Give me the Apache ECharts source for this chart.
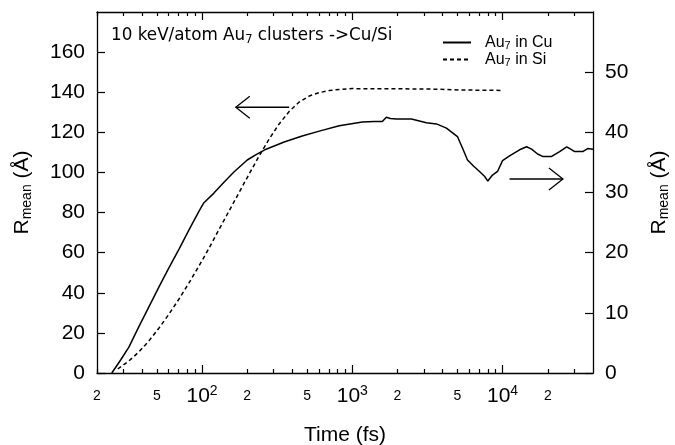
<!DOCTYPE html>
<html>
<head>
<meta charset="utf-8">
<script src="https://cdn.jsdelivr.net/npm/echarts@6/dist/echarts.min.js"></script>
<style>html,body{margin:0;padding:0;background:#fff;}#c{width:675px;height:445px;}</style>
</head>
<body>
<div id="c"></div>
<script>
// ---- data ----
const cuTime = [25.1, 28.8, 32.6, 38.0, 44.3, 51.7, 60.3, 70.3, 81.9, 95.5, 103, 120, 140, 163, 200, 229, 267, 352, 464, 603, 819, 1166, 1402, 1585, 1685, 1792, 1965, 2474, 2797, 3114, 3631, 4233, 5012, 5412, 5845, 6409, 7025, 7586, 7980, 8577, 9261, 10000, 11135, 12023, 12983, 14454, 15604, 17113, 18478, 21219, 23988, 26710, 28400, 30200, 34154, 36880, 40000];
const cuR    = [0, 2.2, 4.3, 7.7, 11.0, 14.3, 17.5, 20.6, 23.8, 26.9, 28.3, 29.9, 31.7, 33.4, 35.4, 36.3, 37.2, 38.4, 39.4, 40.2, 41.1, 41.7, 41.8, 41.8, 42.5, 42.3, 42.2, 42.2, 41.9, 41.6, 41.4, 40.7, 39.3, 37.4, 35.4, 34.4, 33.5, 32.7, 31.9, 32.9, 33.5, 35.3, 36.1, 36.6, 37.1, 37.6, 37.2, 36.4, 36.0, 36.0, 36.8, 37.6, 37.2, 36.8, 36.8, 37.3, 37.2];
const siTime = [27.5, 32.6, 38.0, 44.3, 51.7, 60.3, 70.3, 81.9, 95.5, 111.4, 129.8, 151.4, 176.5, 205.8, 239.9, 279.7, 326.1, 380.2, 443.3, 516.9, 602.6, 702.6, 819.1, 1000, 1965, 3261, 5412, 9847];
const siR    = [2.0, 6.0, 10.5, 16.0, 22.4, 29.4, 36.9, 44.9, 53.4, 62.3, 71.6, 80.8, 90.0, 99.2, 108.2, 116.7, 124.2, 130.4, 135.1, 138.1, 139.8, 140.8, 141.4, 141.8, 141.7, 141.6, 141.1, 140.9];
const seriesNames = ['Au7 in Cu', 'Au7 in Si'];
const xLabelValues = [20, 50, 100, 200, 500, 1000, 2000, 5000, 10000, 20000];
const xMajorTicks = [100, 1000, 10000];
const xMinorTicks = [20, 30, 40, 50, 60, 70, 80, 90, 200, 300, 400, 500, 600, 700, 800, 900, 2000, 3000, 4000, 5000, 6000, 7000, 8000, 9000, 20000, 30000];
const leftTicks = [0, 20, 40, 60, 80, 100, 120, 140, 160];
const rightTicks = [0, 10, 20, 30, 40, 50];
const titleText = '10 keV/atom Au{sub|7} clusters ->Cu/Si';
const xName = 'Time (fs)';
const yName = 'R{sub|mean} (Å)';
// annotation arrows: [tailTime, tipTime, value]
const leftArrow = [380, 167.8, 132.5];
const rightArrow = [11130, 25230, 32.24];

const FONT = 'Liberation Sans, Arial, Helvetica, sans-serif';
const TFONT = 'DejaVu Sans, Liberation Sans, sans-serif';
const chart = echarts.init(document.getElementById('c'));

function xFmt(v) {
  const e = Math.log10(v);
  const re = Math.round(e);
  if (Math.abs(e - re) < 1e-6) return '{b|10}{sup|' + re + '}';
  return '{s|' + Math.round(v / Math.pow(10, Math.floor(e + 1e-9))) + '}';
}
const xRich = {
  b: {fontSize: 21, lineHeight: 24, fontFamily: FONT, color: '#000'},
  sup: {fontSize: 14, lineHeight: 14, verticalAlign: 'top', fontFamily: FONT, color: '#000'},
  s: {fontSize: 14, lineHeight: 24, fontFamily: FONT, color: '#000'}
};
const nameRich = {
  sub: {fontSize: 14, lineHeight: 14, verticalAlign: 'bottom', fontFamily: FONT, color: '#000'}
};
const axisLineStyle = {color: '#000', width: 1.3};

function xAxisDef(position, ticks, len, showLine, showLabel) {
  return {
    type: 'log', logBase: 10, min: 20, max: 40000, position: position, gridIndex: 0,
    axisLine: {show: showLine, onZero: false, lineStyle: axisLineStyle},
    axisTick: {show: true, inside: true, length: len, customValues: ticks, lineStyle: {color: '#000', width: 1.2}},
    axisLabel: showLabel ? {
      show: true, customValues: xLabelValues, formatter: xFmt, rich: xRich, margin: 11,
      showMinLabel: true, showMaxLabel: true, color: '#000', fontFamily: FONT
    } : {show: false},
    splitLine: {show: false}, minorTick: {show: false}
  };
}

const xAxes = [
  Object.assign(xAxisDef('bottom', xMinorTicks, 4, true, true), {
    name: xName, nameLocation: 'middle', nameGap: 52, nameMoveOverlap: false,
    nameTextStyle: {fontSize: 21, fontFamily: FONT, color: '#000'}
  }),
  xAxisDef('bottom', xMajorTicks, 8, false, false),
  xAxisDef('top', xMinorTicks, 4, true, false),
  xAxisDef('top', xMajorTicks, 8, false, false)
];

function yAxisDef(position, max, interval, ticks, nameGap) {
  return {
    type: 'value', min: 0, max: max, interval: interval, position: position,
    axisLine: {show: true, onZero: false, lineStyle: axisLineStyle},
    axisTick: {show: true, inside: true, length: 8, customValues: ticks, lineStyle: {color: '#000', width: 1.2}},
    axisLabel: {show: true, customValues: ticks, margin: 12, fontSize: 21, color: '#000', fontFamily: FONT},
    splitLine: {show: false},
    name: yName, nameLocation: 'middle', nameRotate: 90, nameGap: nameGap, nameMoveOverlap: false,
    nameTextStyle: {fontSize: 21, lineHeight: 24, fontFamily: FONT, color: '#000', rich: nameRich}
  };
}

const option = {
  animation: false,
  backgroundColor: '#fff',
  textStyle: {fontFamily: FONT, color: '#000'},
  grid: {left: 97, right: 82, top: 12, bottom: 72, containLabel: false, outerBoundsMode: 'none'},
  title: {
    text: titleText, left: 111, top: 26, padding: 0,
    textStyle: {fontSize: 16.8, fontWeight: 'normal', lineHeight: 20, color: '#000', fontFamily: TFONT,
      rich: {sub: {fontSize: 11.5, lineHeight: 14, verticalAlign: 'bottom', color: '#000', fontFamily: TFONT}}}
  },
  legend: {
    orient: 'vertical', left: 442, top: 34, itemWidth: 28, itemHeight: 10, itemGap: 0,
    padding: 0,
    itemStyle: {opacity: 0},
    data: seriesNames,
    formatter: n => n.replace('Au7', 'Au{sub|7}'),
    textStyle: {fontSize: 16, lineHeight: 17, color: '#000', fontFamily: FONT, padding: [0, 0, 0, 9],
      rich: {sub: {fontSize: 11, lineHeight: 12, verticalAlign: 'bottom', color: '#000', fontFamily: FONT}}}
  },
  xAxis: xAxes,
  yAxis: [yAxisDef('left', 180, 20, leftTicks, 63), yAxisDef('right', 60, 10, rightTicks, 54)],
  series: [
    {
      name: seriesNames[0], type: 'line', xAxisIndex: 0, yAxisIndex: 1,
      data: cuTime.map((t, i) => [t, cuR[i]]),
      showSymbol: false, symbol: 'none', smooth: false,
      lineStyle: {color: '#000', width: 1.5, type: 'solid'}, itemStyle: {color: '#000'}
    },
    {
      name: seriesNames[1], type: 'line', xAxisIndex: 0, yAxisIndex: 0,
      data: siTime.map((t, i) => [t, siR[i]]),
      showSymbol: false, symbol: 'none', smooth: false,
      lineStyle: {color: '#000', width: 1.5, type: [4, 3]}, itemStyle: {color: '#000'}
    }
  ]
};
chart.setOption(option);

function arrowGraphic(arr, yIdx) {
  const tail = chart.convertToPixel({xAxisIndex: 0, yAxisIndex: yIdx}, [arr[0], arr[2]]);
  const tip = chart.convertToPixel({xAxisIndex: 0, yAxisIndex: yIdx}, [arr[1], arr[2]]);
  const dir = Math.sign(tip[0] - tail[0]);
  const back = 14, half = 11;
  const st = {stroke: '#000', lineWidth: 1.3, fill: null};
  return [
    {type: 'polyline', shape: {points: [tail, tip]}, style: st, silent: true},
    {type: 'polyline', shape: {points: [[tip[0] - dir * back, tip[1] - half], tip, [tip[0] - dir * back, tip[1] + half]]}, style: st, silent: true}
  ];
}
chart.setOption({graphic: arrowGraphic(leftArrow, 0).concat(arrowGraphic(rightArrow, 1))});
</script>
</body>
</html>
